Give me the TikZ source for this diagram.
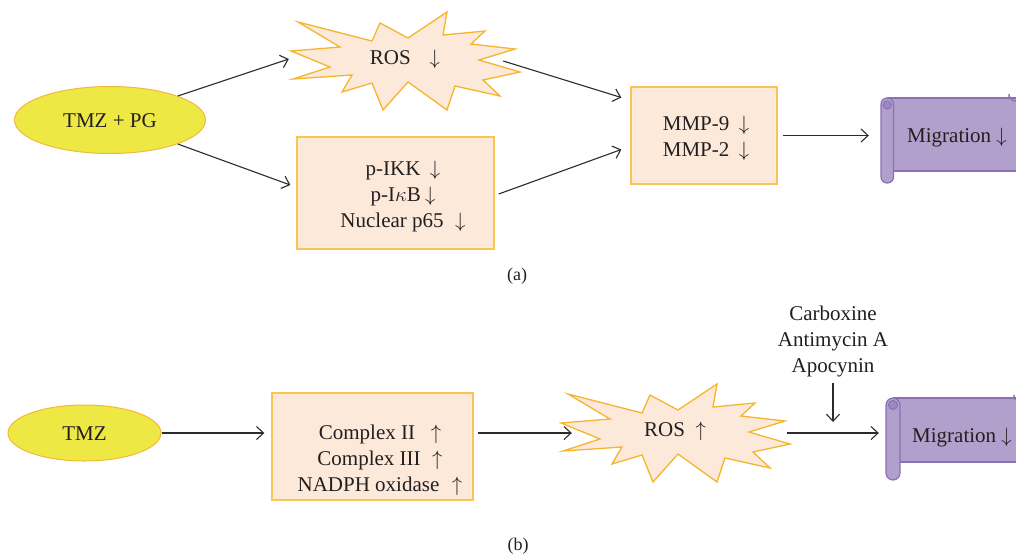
\documentclass[tikz,border=0pt]{standalone}
\usepackage{fontspec}
\setmainfont{Liberation Serif}
\usetikzlibrary{arrows.meta,shapes.geometric}

\definecolor{peach}{HTML}{FCE9D9}
\definecolor{boxline}{HTML}{F8C652}
\definecolor{starline}{HTML}{F5B52E}
\definecolor{lemon}{HTML}{EEE845}
\definecolor{lemonline}{HTML}{F2B83A}
\definecolor{lilac}{HTML}{B1A0CB}
\definecolor{lilacline}{HTML}{8C6FB4}
\definecolor{lilacdark}{HTML}{9E88C2}
\definecolor{ink}{HTML}{231F20}
\definecolor{arrowc}{HTML}{2B2B2B}

\newcommand{\dn}{$\downarrow$}
\newcommand{\upa}{$\uparrow$}

\tikzset{
  txt/.style={text=ink, align=center, inner sep=0pt},
  oval/.style={ellipse, draw=lemonline, fill=lemon, line width=1pt, inner sep=0pt},
  panel/.style={draw=boxline, fill=peach, line width=1.4pt, inner sep=0pt},
  starsty/.style={draw=starline, fill=peach, line width=1.3pt, line join=miter},
  scrollsty/.style={draw=lilacline, fill=lilac, line width=1.2pt},
  arr/.style={draw=arrowc, line width=1.1pt, -{Straight Barb[length=7pt,width=13pt]}},
  burst/.pic={
    \path[starsty] (-107,-36) -- (-33,-17) -- (-25,-35) -- (3,-20) -- (42,-46)
      -- (38,-23) -- (80,-27) -- (66,-14) -- (110,-9) -- (74,2) -- (115,14)
      -- (78,22) -- (95,38) -- (50,28) -- (42,52) -- (3,24) -- (-22,52)
      -- (-33,25) -- (-63,34) -- (-53,17) -- (-112,21) -- (-75,9) -- (-114,-7)
      -- (-65,-11) -- cycle;
  }
}

\begin{document}
\begin{tikzpicture}[x=1pt, y=-1pt, font=\fontsize{21}{26}\selectfont]
\useasboundingbox (0,0) rectangle (1016,558);
\clip (0,0) rectangle (1016,558);

% ---------------- panel (a) ----------------
\node[oval, minimum width=191pt, minimum height=67pt] (tmzpg) at (110,120) {};
\node[txt] (tmzpgt) at (110,121) {TMZ + PG};

\pic at (405,58) {burst};
\node[txt, minimum width=220pt, minimum height=80pt] (rosA) at (405,59) {ROS\hspace{0.9em}\dn};

\node[panel, minimum width=197pt, minimum height=112pt] (nfkb) at (395.5,193) {};
\node[txt] (nfkbt) at (403,197)
  {p-IKK\hspace{0.45em}\dn\\ p-I$\kappa$B\hspace{0.2em}\dn\\ Nuclear p65\hspace{0.55em}\dn};

\node[panel, minimum width=146pt, minimum height=97pt] (mmp) at (704,135.5) {};
\node[txt] (mmpt) at (706,138) {MMP-9\hspace{0.45em}\dn\\ MMP-2\hspace{0.45em}\dn};

% scroll (a)
\node[minimum width=139pt, minimum height=73pt, inner sep=0pt] (scrA) at (950.5,134.5) {};
\fill[lilac] (887,98) rectangle (1030,171);
\draw[lilacline, line width=1.2pt] (887,98) -- (1030,98) (887,171) -- (1030,171);
\draw[scrollsty] (1009,99) -- (1009,94) arc[start angle=180, end angle=90, radius=7]
  -- (1030,87) -- (1030,99);
\draw[scrollsty, rounded corners=6pt] (881,98) rectangle (893.5,183);
\draw[lilacline, fill=lilacdark, line width=1pt] (887.2,105) circle (4);
\node[txt] (migA) at (957,138) {Migration\hspace{0.25em}\dn};

\draw[arr] (tmzpg.north east) -- ([xshift=-6pt]rosA.west);
\draw[arr] (tmzpg.south east) -- ([xshift=-6pt,yshift=8pt]nfkb.west);
\draw[arr] ([xshift=-12pt,yshift=-2pt]rosA.east) -- ([xshift=-9pt,yshift=38pt]mmp.west);
\draw[arr] ([xshift=4pt,yshift=-1pt]nfkb.east) -- ([xshift=-9pt,yshift=-14pt]mmp.west);
\draw[arr, shorten <=5pt, shorten >=12pt] (mmp.east) -- (scrA.west |- mmp.east);

\node[txt, font=\fontsize{18}{22}\selectfont] (capa) at (517,276) {(a)};

% ---------------- panel (b) ----------------
\node[oval, minimum width=153pt, minimum height=56pt] (tmz) at (84.5,433) {};
\node[txt] (tmzt) at (84.5,434) {TMZ};

\node[panel, minimum width=201pt, minimum height=107pt] (cplx) at (372.5,446.5) {};
\node[txt] (cplxt) at (380,460)
  {Complex II\hspace{0.75em}\upa\\ Complex III\hspace{0.55em}\upa\\ NADPH oxidase\hspace{0.6em}\upa};

\pic at (675,430) {burst};
\node[txt, minimum width=220pt, minimum height=80pt] (rosB) at (675,431) {ROS\hspace{0.5em}\upa};

% scroll (b)
\node[minimum width=141pt, minimum height=64pt, inner sep=0pt] (scrB) at (956.5,430) {};
\fill[lilac] (893,398) rectangle (1030,462);
\draw[lilacline, line width=1.2pt] (893,398) -- (1030,398) (893,462) -- (1030,462);
\draw[scrollsty] (1014,399) -- (1014,395) arc[start angle=180, end angle=90, radius=7]
  -- (1030,388) -- (1030,399);
\draw[scrollsty, rounded corners=7pt] (886,398) rectangle (900,480);
\draw[lilacline, fill=lilacdark, line width=1pt] (893,405) circle (4.5);
\node[txt] (migB) at (962,438) {Migration\hspace{0.25em}\dn};

\node[txt] (inhib) at (833,341) {Carboxine\\ Antimycin A\\ Apocynin};
\coordinate (block) at (833,422);

\draw[arr] (tmz.east) -- ([xshift=-7pt]tmz.east -| cplx.west);
\draw[arr] ([xshift=4pt,yshift=13.5pt]cplx.east) -- ([xshift=7pt]rosB.west |- tmz.east);
\draw[arr] ([xshift=2pt]rosB.east |- tmz.east) -- ([xshift=-7pt]scrB.west |- tmz.east);
\draw[arr, shorten <=6pt] (inhib.south) -- (block);

\node[txt, font=\fontsize{18}{22}\selectfont] (capb) at (518,546) {(b)};
\end{tikzpicture}
\end{document}
